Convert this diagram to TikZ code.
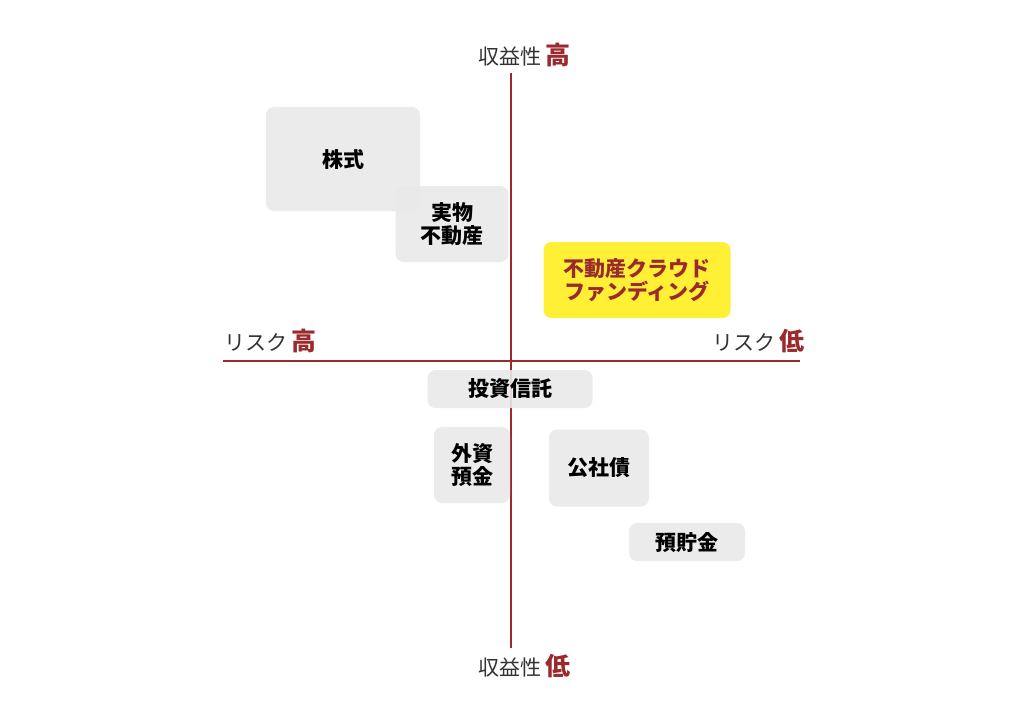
\documentclass[tikz,border=0pt]{standalone}
\usepackage{fontspec}
\setmainfont{Noto Sans CJK JP}
\usetikzlibrary{positioning}
\definecolor{axisred}{HTML}{9B2A2E}
\definecolor{boxgray}{HTML}{E9E9E9}
\definecolor{fundyellow}{HTML}{FFF035}
\definecolor{labelgray}{HTML}{333333}

\begin{document}
\begin{tikzpicture}[x=1pt, y=-1pt,
  every node/.style = {align=center, inner sep=0pt},
  box/.style = {fill=boxgray, fill opacity=0.9, text opacity=1, rounded corners=8pt,
    font=\fontsize{21}{23.5}\selectfont\bfseries},
  fund/.style = {box, fill=fundyellow, fill opacity=1, text=axisred},
  axis/.style = {draw=axisred, line width=2.8pt},
  axislabel/.style = {anchor=west, text=labelgray, font=\fontsize{21}{24}\selectfont}]
 \useasboundingbox (0,0) rectangle (1024,724);
 % axes
 \coordinate (top) at (511,73);
 \coordinate (bottom) at (511,648);
 \coordinate (left) at (223,361);
 \coordinate (right) at (800,361);
 \draw[axis] (top) -- (bottom);
 \draw[axis] (left) -- (right);
 % axis labels
 \node[axislabel] (returnhigh) at (478,55) {収益性 {\color{axisred}\fontsize{25}{25}\selectfont\bfseries 高}};
 \node[axislabel] (returnlow) at (478,666) {収益性 {\color{axisred}\fontsize{25}{25}\selectfont\bfseries 低}};
 \node[axislabel] (riskhigh) at (224,341) {リスク {\color{axisred}\fontsize{25}{25}\selectfont\bfseries 高}};
 \node[axislabel] (risklow) at (712,341) {リスク {\color{axisred}\fontsize{25}{25}\selectfont\bfseries 低}};
 % products
 \node[box, minimum width=154, minimum height=104] (stock) at (343,159) {株式};
 \node[box, minimum width=113, minimum height=76] (realestate) at (452,224) {実物\\不動産};
 \node[fund, minimum width=187, minimum height=76] (crowdfund) at (637,280) {不動産クラウド\\ファンディング};
 \node[box, minimum width=165, minimum height=38] (trust) at (510,389) {投資信託};
 \node[box, minimum width=76, minimum height=76] (foreign) at (472,465) {外資\\預金};
 \node[box, minimum width=100, minimum height=77] (bond) at (599,468) {公社債};
 \node[box, minimum width=116, minimum height=38] (deposit) at (687,542) {預貯金};
\end{tikzpicture}
\end{document}
